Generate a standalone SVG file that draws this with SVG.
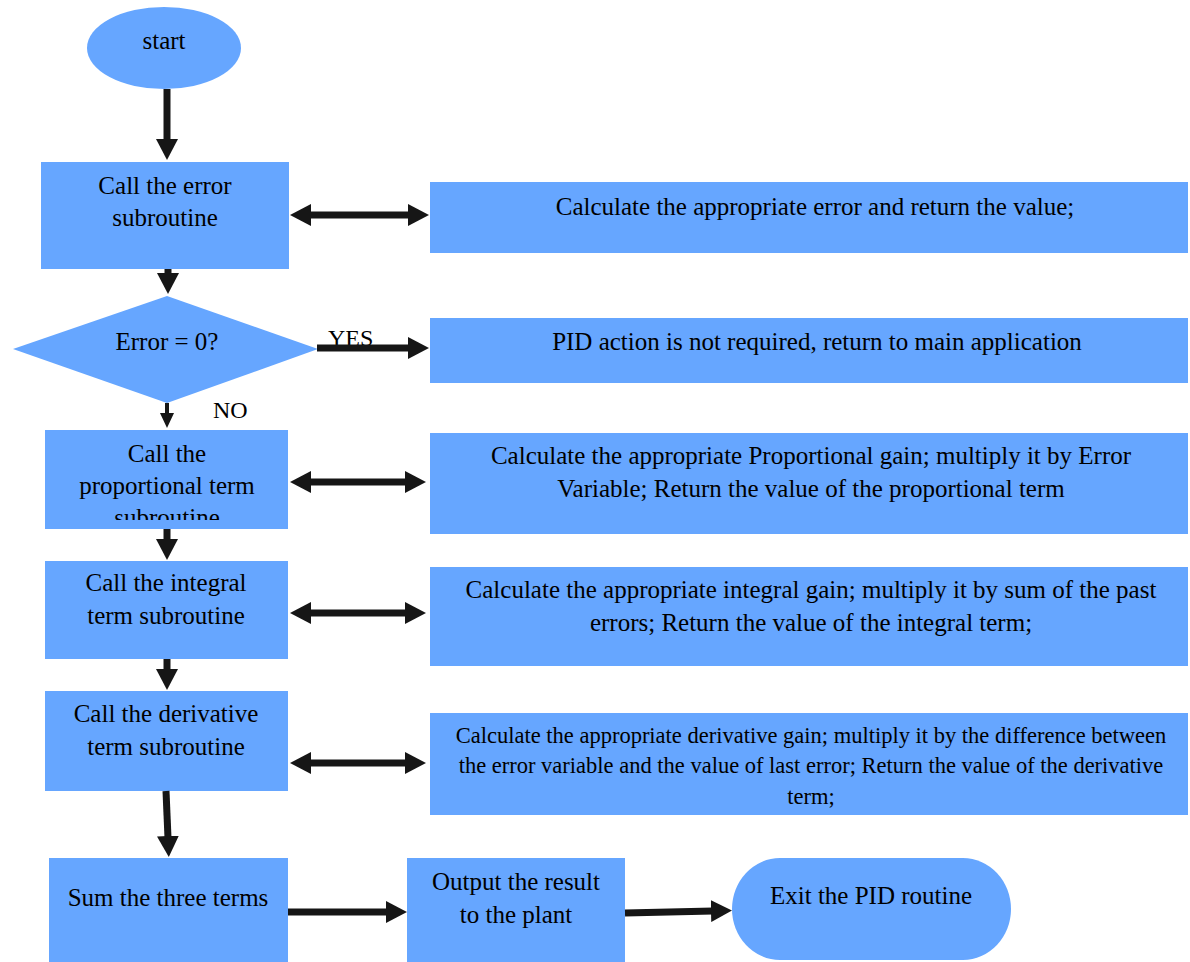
<svg xmlns="http://www.w3.org/2000/svg" width="1190" height="962" viewBox="0 0 1190 962">
<style>
.n{fill:#66a6ff}
.t{font-family:"Liberation Serif","Times New Roman",serif;font-size:25px;fill:#000;text-anchor:middle}
.ts{font-family:"Liberation Serif","Times New Roman",serif;font-size:22.5px;fill:#000;text-anchor:middle}
.lbl{font-family:"Liberation Serif","Times New Roman",serif;font-size:24px;fill:#000}
.c{stroke:#161616;stroke-width:7;fill:none}
.c2{stroke:#161616;stroke-width:4;fill:none}
</style>
<defs>
<marker id="ah" markerUnits="userSpaceOnUse" markerWidth="22" markerHeight="22" refX="2" refY="11" orient="auto-start-reverse">
<path d="M0,0 L21,11 L0,22 z" fill="#161616"/>
</marker>
<marker id="ahs" markerUnits="userSpaceOnUse" markerWidth="16" markerHeight="16" refX="2" refY="7" orient="auto">
<path d="M0,0 L15,7 L0,14 z" fill="#161616"/>
</marker>
<clipPath id="clipP"><rect x="45" y="430" width="243" height="90"/></clipPath>
</defs>

<g id="start">
<ellipse class="n" cx="164" cy="48" rx="77" ry="41"/>
<text class="t" x="164" y="49">start</text>
</g>

<g id="callError">
<rect class="n" x="41" y="162" width="248" height="107"/>
<text class="t" x="165" y="194">Call the error</text>
<text class="t" x="165" y="226">subroutine</text>
</g>

<g id="calcError">
<rect class="n" x="430" y="182" width="758" height="71"/>
<text class="t" x="815" y="215">Calculate the appropriate error and return the value;</text>
</g>

<g id="decision">
<polygon class="n" points="167,296 318,349 167,403 13,349"/>
<text class="t" x="167" y="350">Error = 0?</text>
</g>

<g id="notRequired">
<rect class="n" x="430" y="318" width="758" height="65"/>
<text class="t" x="817" y="350">PID action is not required, return to main application</text>
</g>

<g id="callProp">
<rect class="n" x="45" y="430" width="243" height="99"/>
<g clip-path="url(#clipP)">
<text class="t" x="167" y="462">Call the</text>
<text class="t" x="167" y="494">proportional term</text>
<text class="t" x="167" y="526">subroutine</text>
</g>
</g>

<g id="calcProp">
<rect class="n" x="430" y="433" width="758" height="101"/>
<text class="t" x="811" y="464">Calculate the appropriate Proportional gain; multiply it by Error</text>
<text class="t" x="811" y="497">Variable; Return the value of the proportional term</text>
</g>

<g id="callInt">
<rect class="n" x="45" y="561" width="243" height="98"/>
<text class="t" x="166" y="591">Call the integral</text>
<text class="t" x="166" y="624">term subroutine</text>
</g>

<g id="calcInt">
<rect class="n" x="430" y="567" width="758" height="99"/>
<text class="t" x="811" y="598">Calculate the appropriate integral gain; multiply it by sum of the past</text>
<text class="t" x="811" y="631">errors; Return the value of the integral term;</text>
</g>

<g id="callDer">
<rect class="n" x="45" y="691" width="243" height="100"/>
<text class="t" x="166" y="722">Call the derivative</text>
<text class="t" x="166" y="755">term subroutine</text>
</g>

<g id="calcDer">
<rect class="n" x="430" y="713" width="758" height="102"/>
<text class="ts" x="811" y="743">Calculate the appropriate derivative gain; multiply it by the difference between</text>
<text class="ts" x="811" y="773">the error variable and the value of last error; Return the value of the derivative</text>
<text class="ts" x="811" y="804">term;</text>
</g>

<g id="sum">
<rect class="n" x="49" y="858" width="239" height="104"/>
<text class="t" x="168" y="906">Sum the three terms</text>
</g>

<g id="output">
<rect class="n" x="407" y="858" width="218" height="104"/>
<text class="t" x="516" y="890">Output the result</text>
<text class="t" x="516" y="923">to the plant</text>
</g>

<g id="exit">
<rect class="n" x="732" y="858" width="279" height="102" rx="48" ry="51"/>
<text class="t" x="871" y="904">Exit the PID routine</text>
</g>

<g id="labels">
<text class="lbl" x="328" y="346">YES</text>
<text class="lbl" x="213" y="418">NO</text>
</g>

<g id="connectors">
<line class="c" x1="167" y1="89" x2="167" y2="141" marker-end="url(#ah)"/>
<line class="c" x1="168" y1="269" x2="168" y2="275" marker-end="url(#ah)"/>
<line class="c2" x1="167" y1="403" x2="167" y2="415" marker-end="url(#ahs)"/>
<line class="c" x1="167" y1="529" x2="167" y2="541" marker-end="url(#ah)"/>
<line class="c" x1="167" y1="659" x2="167" y2="671" marker-end="url(#ah)"/>
<line class="c" x1="166" y1="791" x2="168" y2="838" marker-end="url(#ah)"/>
<line class="c" x1="317" y1="348" x2="410" y2="348" marker-end="url(#ah)"/>
<line class="c" x1="309" y1="215" x2="410" y2="215" marker-start="url(#ah)" marker-end="url(#ah)"/>
<line class="c" x1="309" y1="482" x2="407" y2="482" marker-start="url(#ah)" marker-end="url(#ah)"/>
<line class="c" x1="309" y1="613" x2="407" y2="613" marker-start="url(#ah)" marker-end="url(#ah)"/>
<line class="c" x1="309" y1="763" x2="407" y2="763" marker-start="url(#ah)" marker-end="url(#ah)"/>
<line class="c" x1="288" y1="912" x2="388" y2="912" marker-end="url(#ah)"/>
<line class="c" x1="625" y1="913" x2="713" y2="911" marker-end="url(#ah)"/>
</g>
</svg>
